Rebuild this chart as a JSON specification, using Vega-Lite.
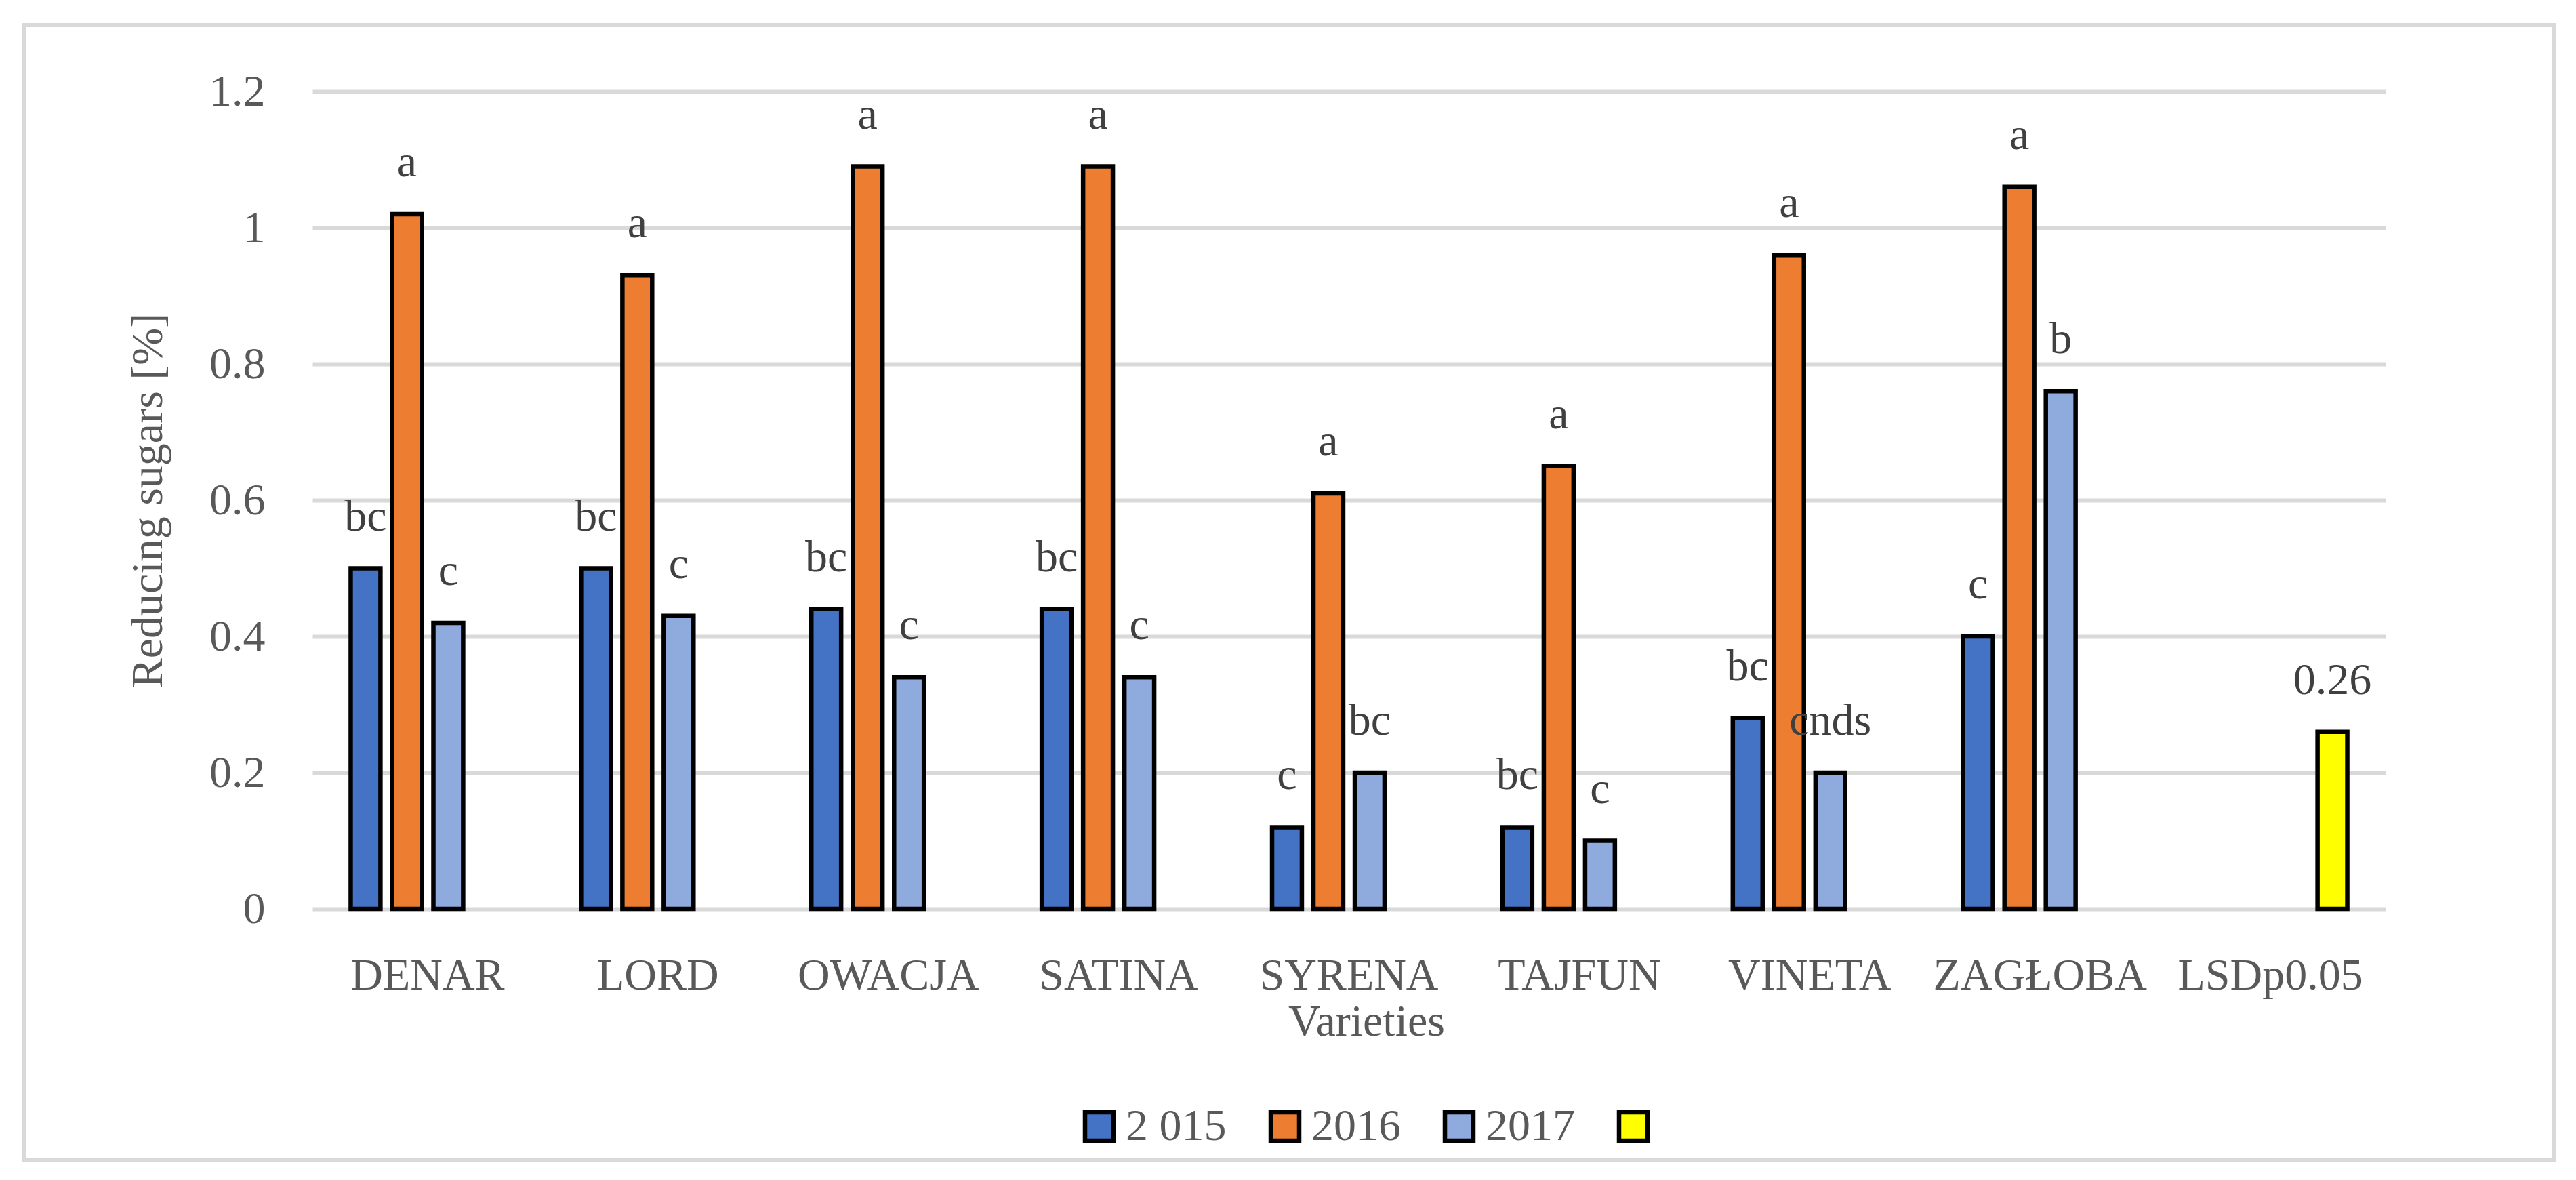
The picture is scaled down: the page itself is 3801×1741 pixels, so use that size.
{
  "$schema": "https://vega.github.io/schema/vega-lite/v6.json",
  "width": 3733,
  "height": 1675,
  "autosize": {"type": "none"},
  "padding": {"left": 36, "top": 37, "right": 32, "bottom": 29},
  "background": "white",
  "config": {
    "view": {"stroke": "#d9d9d9", "strokeWidth": 6},
    "font": "Liberation Serif"
  },
  "data": {
    "values": [
      {"variety": "DENAR", "series": "2 015", "value": 0.50, "label": "bc"},
      {"variety": "DENAR", "series": "2016", "value": 1.02, "label": "a"},
      {"variety": "DENAR", "series": "2017", "value": 0.42, "label": "c"},
      {"variety": "LORD", "series": "2 015", "value": 0.50, "label": "bc"},
      {"variety": "LORD", "series": "2016", "value": 0.93, "label": "a"},
      {"variety": "LORD", "series": "2017", "value": 0.43, "label": "c"},
      {"variety": "OWACJA", "series": "2 015", "value": 0.44, "label": "bc"},
      {"variety": "OWACJA", "series": "2016", "value": 1.09, "label": "a"},
      {"variety": "OWACJA", "series": "2017", "value": 0.34, "label": "c"},
      {"variety": "SATINA", "series": "2 015", "value": 0.44, "label": "bc"},
      {"variety": "SATINA", "series": "2016", "value": 1.09, "label": "a"},
      {"variety": "SATINA", "series": "2017", "value": 0.34, "label": "c"},
      {"variety": "SYRENA", "series": "2 015", "value": 0.12, "label": "c"},
      {"variety": "SYRENA", "series": "2016", "value": 0.61, "label": "a"},
      {"variety": "SYRENA", "series": "2017", "value": 0.20, "label": "bc"},
      {"variety": "TAJFUN", "series": "2 015", "value": 0.12, "label": "bc"},
      {"variety": "TAJFUN", "series": "2016", "value": 0.65, "label": "a"},
      {"variety": "TAJFUN", "series": "2017", "value": 0.10, "label": "c"},
      {"variety": "VINETA", "series": "2 015", "value": 0.28, "label": "bc"},
      {"variety": "VINETA", "series": "2016", "value": 0.96, "label": "a"},
      {"variety": "VINETA", "series": "2017", "value": 0.20, "label": "cnds"},
      {"variety": "ZAGŁOBA", "series": "2 015", "value": 0.40, "label": "c"},
      {"variety": "ZAGŁOBA", "series": "2016", "value": 1.06, "label": "a"},
      {"variety": "ZAGŁOBA", "series": "2017", "value": 0.76, "label": "b"},
      {"variety": "LSDp0.05", "series": "LSD", "value": 0.26, "label": "0.26"}
    ]
  },
  "encoding": {
    "x": {
      "field": "variety",
      "type": "nominal",
      "sort": ["DENAR", "LORD", "OWACJA", "SATINA", "SYRENA", "TAJFUN", "VINETA", "ZAGŁOBA", "LSDp0.05"],
      "scale": {"range": [425, 3484], "paddingInner": 0.282, "paddingOuter": 0.141},
      "title": "Varieties",
      "axis": {
        "labelAngle": 0,
        "domain": false,
        "ticks": false,
        "grid": false,
        "offset": -371,
        "labelPadding": 66,
        "labelBaseline": "top",
        "labelFont": "Liberation Serif",
        "labelFontSize": 66,
        "labelColor": "#595959",
        "labelOverlap": false,
        "labelLimit": 1000,
        "titleFont": "Liberation Serif",
        "titleFontSize": 66,
        "titleFontWeight": "normal",
        "titleColor": "#595959",
        "titleX": 1980,
        "titleY": 186,
        "titleBaseline": "alphabetic",
        "titleAlign": "center"
      }
    },
    "xOffset": {
      "field": "series",
      "type": "nominal",
      "scale": {"domain": ["2 015", "2016", "2017", "LSD"], "paddingInner": 0.28, "paddingOuter": 0.14}
    },
    "y": {
      "field": "value",
      "type": "quantitative",
      "scale": {"domain": [0, 1.2], "range": [1304, 98], "nice": false},
      "title": "Reducing sugars [%]",
      "axis": {
        "values": [0, 0.2, 0.4, 0.6, 0.8, 1, 1.2],
        "format": "~g",
        "offset": -425,
        "domain": false,
        "ticks": false,
        "grid": true,
        "gridColor": "#d9d9d9",
        "gridWidth": 6,
        "labelPadding": 70,
        "labelFont": "Liberation Serif",
        "labelFontSize": 66,
        "labelColor": "#595959",
        "titleFont": "Liberation Serif",
        "titleFontSize": 66,
        "titleFontWeight": "normal",
        "titleColor": "#595959",
        "titleX": -223,
        "titleY": 701,
        "titleAngle": -90,
        "titleBaseline": "alphabetic",
        "titleAlign": "center",
        "titleLimit": 2000
      }
    }
  },
  "layer": [
    {
      "mark": {"type": "bar", "stroke": "black", "strokeWidth": 6.5},
      "encoding": {
        "color": {
          "field": "series",
          "type": "nominal",
          "scale": {"domain": ["2 015", "2016", "2017", "LSD"], "range": ["#4472C4", "#ED7D31", "#8FAADC", "#FFFF00"]},
          "legend": {
            "orient": "none",
            "legendX": 1553,
            "legendY": 1592,
            "direction": "horizontal",
            "title": null,
            "padding": 0,
            "labelFont": "Liberation Serif",
            "labelFontSize": 66,
            "labelColor": "#595959",
            "labelOffset": 6,
            "columnPadding": 52,
            "symbolType": "square",
            "symbolSize": 1764,
            "symbolStrokeColor": "black",
            "symbolStrokeWidth": 6.5,
            "symbolOpacity": 1,
            "labelExpr": "datum.label == 'LSD' ? '' : datum.label"
          }
        }
      }
    },
    {
      "mark": {"type": "text", "dy": -56, "baseline": "alphabetic", "font": "Liberation Serif", "fontSize": 66, "color": "#404040"},
      "encoding": {"text": {"field": "label"}}
    }
  ]
}
